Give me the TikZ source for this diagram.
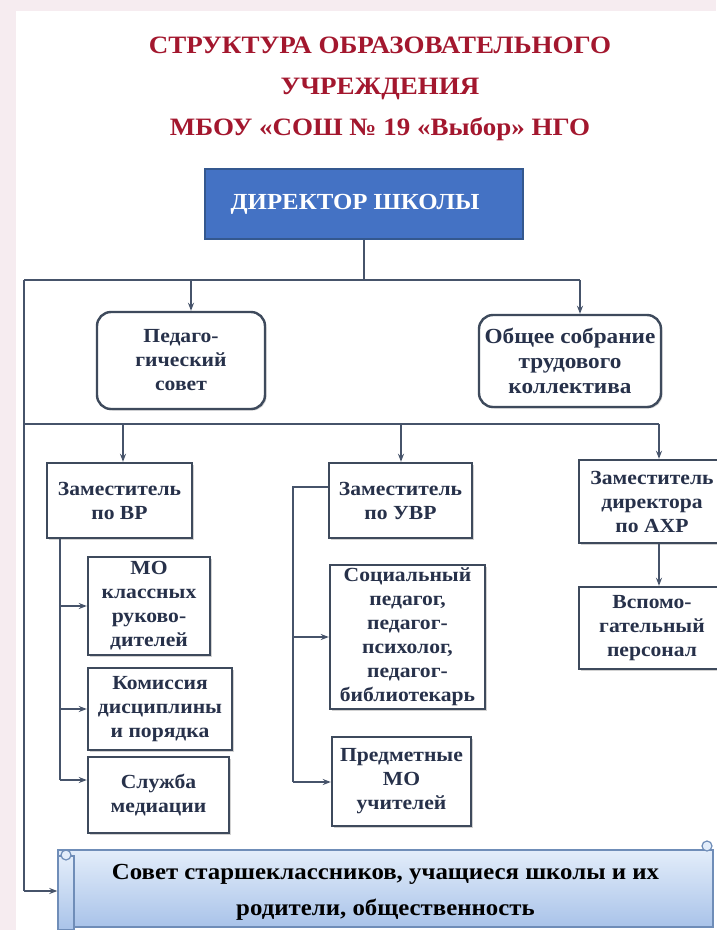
\documentclass[tikz,border=0pt]{standalone}
\usepackage{fontspec}
\setmainfont{Liberation Serif}[FakeStretch=1.08]
\usetikzlibrary{arrows.meta,shadows}
\definecolor{pinkbg}{HTML}{F6ECF0}
\definecolor{titlered}{HTML}{A3172E}
\definecolor{dirblue}{HTML}{4472C4}
\definecolor{dirline}{HTML}{34588F}
\definecolor{boxline}{HTML}{3E4A5C}
\definecolor{boxtext}{HTML}{27314A}
\definecolor{linecol}{HTML}{46536A}
\definecolor{scrolltop}{HTML}{E3EDFA}
\definecolor{scrollbot}{HTML}{A9C3E9}
\definecolor{scrollline}{HTML}{6F8DB8}
\begin{document}
\begin{tikzpicture}[x=1pt, y=-1pt,
    box/.style = {draw=boxline, line width=2.4pt, fill=white, align=center, text=boxtext, inner sep=2pt,
      font=\bfseries\fontsize{20}{24}\selectfont, drop shadow={shadow xshift=1.5pt, shadow yshift=-1.5pt, opacity=.35}},
    rbox/.style = {box, rounded corners=14pt},
    line/.style = {draw=linecol, line width=1.6pt},
    arr/.style = {line, -{Stealth[length=8pt,width=6pt]}}]
    \fill[pinkbg] (0,0) rectangle (716,930);
    \fill[white] (16,11) rectangle (716,930);
    \useasboundingbox (0,0) rectangle (716,930);
    \node[text=titlered, align=center, font=\bfseries\fontsize{25}{41}\selectfont] (title) at (380,89) {СТРУКТУРА ОБРАЗОВАТЕЛЬНОГО\\УЧРЕЖДЕНИЯ\\МБОУ «СОШ №~19 «Выбор» НГО};
    \node[draw=dirline, line width=1.2pt, fill=dirblue, text=white, minimum width=318pt, minimum height=70pt, font=\bfseries\fontsize{23}{26}\selectfont] (dir) at (364,204) {\hspace*{-18pt}ДИРЕКТОР ШКОЛЫ};
    \node[rbox, minimum width=168pt, minimum height=97pt] (ped) at (181,360.5) {Педаго-\\гический\\совет};
    \node[rbox, minimum width=182pt, minimum height=92pt, font=\bfseries\fontsize{21.5}{25}\selectfont] (obsh) at (570,361) {Общее собрание\\трудового\\коллектива};
    \node[box, minimum width=145pt, minimum height=75pt] (zvr) at (119.5,500.5) {Заместитель\\по ВР};
    \node[box, minimum width=143pt, minimum height=75pt] (zuvr) at (400.5,500.5) {Заместитель\\по УВР};
    \node[box, minimum width=146pt, minimum height=83pt] (zahr) at (652,501.5) {Заместитель\\директора\\по АХР};
    \node[box, minimum width=122pt, minimum height=98pt] (mo) at (149,606) {МО\\классных\\руково-\\дителей};
    \node[box, minimum width=144pt, minimum height=82pt] (kom) at (160,709) {Комиссия\\дисциплины\\и порядка};
    \node[box, minimum width=141pt, minimum height=76pt] (sluzh) at (158.5,795) {Служба\\медиации};
    \node[box, minimum width=155pt, minimum height=144pt] (soc) at (407.5,637) {Социальный\\педагог,\\педагог-\\психолог,\\педагог-\\библиотекарь};
    \node[box, minimum width=139pt, minimum height=89pt] (pred) at (401.5,781.5) {Предметные\\МО\\учителей};
    \node[box, minimum width=146pt, minimum height=82pt] (vspom) at (652,628) {Вспомо-\\гательный\\персонал};
    \node[draw=scrollline, line width=1.4pt, top color=scrolltop, bottom color=scrollbot, align=center, text=black,
      minimum width=655pt, minimum height=77pt, font=\bfseries\fontsize{23}{36}\selectfont] (sovet) at (385.5,888.5) {\parbox{600pt}{\centering\vspace*{8pt}Совет старшеклассников, учащиеся школы и их\\родители, общественность}};
    \draw[draw=scrollline, line width=1.2pt, top color=scrolltop, bottom color=scrollbot] (58,856) rectangle (74,930);
    \draw[draw=scrollline, line width=1.2pt, fill=scrolltop] (66,855) circle (5pt);
    \draw[draw=scrollline, line width=1.2pt, fill=scrolltop] (707,846) circle (5pt);
    \coordinate (topL) at (24,280);
    \coordinate (topR) at (580,280);
    \coordinate (pedin) at (191,280);
    \coordinate (midL) at (24,424);
    \coordinate (midR) at (659,424);
    \coordinate (vrin) at (123,424);
    \coordinate (uvrin) at (401,424);
    \coordinate (botL) at (24,891);
    \coordinate (vrrail) at (60,780);
    \coordinate (uvrtop) at (293,487);
    \coordinate (uvrrail) at (293,782);
    \draw[line] (dir) -- (dir.south |- topL);
    \draw[line] (topL) -- (topR);
    \draw[arr] (pedin) -- (pedin |- ped.north);
    \draw[arr] (topR) -- (topR |- obsh.north);
    \draw[line] (topL) -- (botL);
    \draw[arr] (botL) -- (botL -| sovet.west);
    \draw[line] (midL) -- (midR);
    \draw[arr] (vrin) -- (vrin |- zvr.north);
    \draw[arr] (uvrin) -- (uvrin |- zuvr.north);
    \draw[arr] (midR) -- (midR |- zahr.north);
    \draw[line] (vrrail |- zvr.south) -- (vrrail);
    \draw[arr] (vrrail |- mo.west) -- (mo.west);
    \draw[arr] (vrrail |- kom.west) -- (kom.west);
    \draw[arr] (vrrail) -- (vrrail -| sluzh.west);
    \draw[line] (uvrtop -| zuvr.west) -- (uvrtop) -- (uvrrail);
    \draw[arr] (uvrtop |- soc.west) -- (soc.west);
    \draw[arr] (uvrrail) -- (uvrrail -| pred.west);
    \draw[arr] (midR |- zahr.south) -- (midR |- vspom.north);
\end{tikzpicture}
\end{document}
